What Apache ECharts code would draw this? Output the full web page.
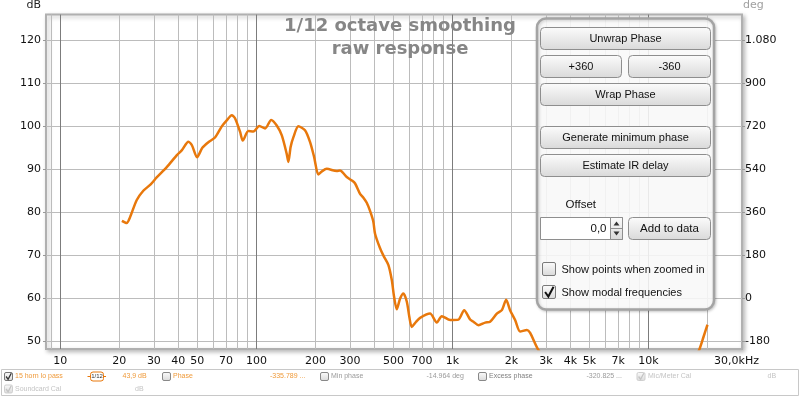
<!DOCTYPE html>
<html>
<head>
<meta charset="utf-8">
<script src="https://cdn.jsdelivr.net/npm/echarts@6/dist/echarts.min.js"></script>
<style>
  html, body { margin: 0; padding: 0; background: #fff; }
  #main { width: 800px; height: 397px; }
</style>
</head>
<body>
<div id="main"></div>
<script>
// 15 horn lo pass, 1/12 octave smoothing
var freqs = [20.6, 21.8, 22.7, 24.5, 26.5, 28.9, 31.0, 34.9, 39.3, 41.6,
  45.0, 46.9, 49.8, 53.0, 56.9, 61.5, 66.6, 70.6, 74.9, 77.8,
  82.6, 85.2, 91.0, 96.5, 103.5, 110.8, 119.0, 127.0, 134.8, 142.8,
  145.6, 149.5, 154.5, 163.8, 177.0, 187.7, 197.0, 207.0, 215.6, 228.6,
  257.0, 267.0, 289.0, 306.7, 318.9, 338.0, 351.6, 365.6, 380.0, 395.0,
  403.0, 427.5, 448.0, 471.6, 490.6, 504.0, 520.0, 541.0, 562.0, 585.0,
  603.0, 620.0, 653.0, 684.0, 769.0, 832.0, 883.0, 973.0, 1073, 1148,
  1231, 1280, 1358, 1469, 1556, 1685, 1787, 1880, 1968, 2088,
  2215, 2399, 2492, 2715, 3000, 3600, 4500, 6000, 8000, 11000,
  14500, 17000, 18200, 19100, 20000];
var spl = [78.0, 77.5, 78.9, 82.8, 85.0, 86.5, 88.1, 90.5, 93.3, 94.4,
  96.4, 95.6, 92.8, 95.0, 96.3, 97.4, 100.0, 101.4, 102.6, 101.9,
  98.7, 96.7, 98.9, 98.8, 100.1, 99.5, 101.5, 100.2, 97.9, 93.6,
  91.7, 95.2, 97.5, 100.0, 99.1, 96.4, 92.9, 88.8, 89.5, 90.1,
  89.6, 89.7, 88.2, 87.4, 86.7, 84.3, 83.4, 82.2, 80.3, 77.8,
  75.0, 71.6, 69.6, 67.7, 64.2, 60.3, 57.4, 59.9, 61.1, 59.2,
  55.6, 53.3, 54.5, 55.4, 56.4, 54.3, 55.8, 54.9, 55.0, 57.2,
  55.0, 54.5, 53.7, 54.3, 54.5, 56.4, 57.2, 59.6, 57.2, 54.9,
  52.2, 52.6, 51.9, 48.3, 45.5, 41, 38, 36, 35, 37,
  41, 45.5, 48.1, 51.0, 53.8];

var dbTicks = [50, 60, 70, 80, 90, 100, 110, 120];
var degTicks = [-180, 0, 180, 360, 540, 720, 900, 1080];
var freqLabels = [10, 20, 30, 40, 50, 70, 100, 200, 300, 500, 700,
  1000, 2000, 3000, 4000, 5000, 7000, 10000, 30000];
var freqGrid = [9, 10, 20, 30, 40, 50, 60, 70, 80, 90,
  100, 200, 300, 400, 500, 600, 700, 800, 900,
  1000, 2000, 3000, 4000, 5000, 6000, 7000, 8000, 9000,
  10000, 20000];
var decades = [10, 100, 1000, 10000];

var fMin = 8.45, fMax = 30000;
var dbMin = 48.15, dbMax = 126.05;
// right axis is tied to the left one: 10 dB <-> 180 deg, 120 dB <-> 1080 deg
var degMin = (dbMin - 120) * 18 + 1080;
var degMax = (dbMax - 120) * 18 + 1080;

var chart = echarts.init(document.getElementById('main'), null, { renderer: 'canvas' });

function fmtFreq(v) {
  if (v >= 30000) return '{e|30,0kHz}';
  if (v >= 1000) return (v / 1000) + 'k';
  return String(v);
}

function fmtDeg(v) {
  return String(v).replace(/\B(?=(\d{3})+(?!\d))/g, '.');
}

var btnFill = new echarts.graphic.LinearGradient(0, 0, 0, 1, [
  { offset: 0, color: '#fcfcfc' },
  { offset: 1, color: '#d9d9d9' }
]);

function button(x, y, w, h, label, size) {
  return [
    { type: 'rect', z: 101, shape: { x: x, y: y, width: w, height: h, r: 4 },
      style: { fill: btnFill, stroke: '#8e8e8e', lineWidth: 1 } },
    { type: 'text', z: 102, style: { x: x + w / 2, y: y + h / 2 + 0.5, text: label,
      font: (size || 11) + 'px "Liberation Sans"', fill: '#111', align: 'center', verticalAlign: 'middle' } }
  ];
}

function label(x, y, text, size, color, align) {
  return { type: 'text', z: 102, style: { x: x, y: y, text: text,
    font: size + 'px "Liberation Sans"', fill: color, align: align || 'left', verticalAlign: 'middle' } };
}

function box(x, y, s, checked, color) {
  var els = [{ type: 'rect', z: 101, shape: { x: x, y: y, width: s, height: s, r: 1.5 },
    style: { fill: btnFill, stroke: color, lineWidth: 1 } }];
  if (checked) {
    els.push({ type: 'polyline', z: 102,
      shape: { points: [[x + s * 0.2, y + s * 0.5], [x + s * 0.45, y + s * 0.85], [x + s * 0.85, y + s * 0.1]] },
      style: { stroke: checked, lineWidth: s > 10 ? 2 : 1.3, fill: null } });
  }
  return els;
}

var panel = [].concat(
  [{ type: 'rect', z: 100, shape: { x: 537, y: 18.5, width: 177, height: 291, r: 9 },
    style: { fill: 'rgba(255,255,255,0.86)', stroke: '#a4a4a4', lineWidth: 2.5,
      shadowBlur: 3, shadowColor: 'rgba(0,0,0,0.2)', shadowOffsetX: 1, shadowOffsetY: 1 } }],
  button(540.5, 27.5, 170, 22, 'Unwrap Phase'),
  button(540.5, 55.5, 81, 22, '+360'),
  button(628.5, 55.5, 82, 22, '-360'),
  button(540.5, 83.5, 170, 22, 'Wrap Phase'),
  button(540.5, 126.5, 170, 22, 'Generate minimum phase'),
  button(540.5, 154.5, 170, 22, 'Estimate IR delay'),
  [label(565.5, 205, 'Offset', 11.5, '#111')],
  [{ type: 'rect', z: 101, shape: { x: 540.5, y: 217.5, width: 82, height: 22 },
    style: { fill: '#fff', stroke: '#8e8e8e', lineWidth: 1 } },
   label(606.5, 229, '0,0', 11.5, '#111', 'right'),
   { type: 'rect', z: 101, shape: { x: 610.5, y: 217.5, width: 12, height: 22 },
    style: { fill: btnFill, stroke: '#8e8e8e', lineWidth: 1 } },
   { type: 'line', z: 102, shape: { x1: 610.5, y1: 228.5, x2: 622.5, y2: 228.5 },
    style: { stroke: '#8e8e8e', lineWidth: 1 } },
   { type: 'polygon', z: 102, shape: { points: [[613.5, 225.5], [619.5, 225.5], [616.5, 221.5]] },
    style: { fill: '#333' } },
   { type: 'polygon', z: 102, shape: { points: [[613.5, 231.5], [619.5, 231.5], [616.5, 235.5]] },
    style: { fill: '#333' } }],
  button(628.5, 217.5, 82, 22, 'Add to data', 11.5),
  box(542.5, 262.5, 13, null, '#7a7a7a'),
  [label(561.5, 270, 'Show points when zoomed in', 11, '#111')],
  box(542.5, 285.5, 13, '#111', '#7a7a7a'),
  [label(561.5, 293, 'Show modal frequencies', 11, '#111')]
);

var orange = '#ef9a3a', grey = '#9a9a9a', faint = '#c4c4c4';
var legendBar = [].concat(
  [{ type: 'rect', z: 100, shape: { x: 1.5, y: 369.5, width: 797, height: 26 },
    style: { fill: '#fff', stroke: '#c8c8c8', lineWidth: 1 } }],
  box(4.5, 372.5, 8, '#333', '#777'),
  [label(15, 376.5, '15 horn lo pass', 7, orange),
   { type: 'line', z: 101, shape: { x1: 87.5, y1: 376.5, x2: 106, y2: 376.5 },
    style: { stroke: '#e8780c', lineWidth: 1 } },
   { type: 'rect', z: 102, shape: { x: 90.5, y: 372, width: 13, height: 9, r: 2.5 },
    style: { fill: '#fff', stroke: '#e8780c', lineWidth: 1 } },
   { type: 'text', z: 103, style: { x: 97, y: 376.8, text: '1/12', font: '6px "Liberation Sans"',
    fill: '#333', align: 'center', verticalAlign: 'middle' } },
   label(122.5, 376.5, '43,9 dB', 7, orange)],
  box(162.5, 372.5, 8, null, '#888'),
  [label(173, 376.5, 'Phase', 7, orange),
   label(270, 376.5, '-335.789 ...', 7, orange)],
  box(320.5, 372.5, 8, null, '#888'),
  [label(331, 376.5, 'Min phase', 7, grey),
   label(426.5, 376.5, '-14.964 deg', 7, grey)],
  box(478.5, 372.5, 8, null, '#888'),
  [label(489, 376.5, 'Excess phase', 7, '#808080'),
   label(586.5, 376.5, '-320.825 ...', 7, grey)],
  box(637, 372.5, 8, faint, '#cfcfcf'),
  [label(648, 376.5, 'Mic/Meter Cal', 7, faint),
   label(767.5, 376.5, 'dB', 7, faint)],
  box(4.5, 385, 8, faint, '#cfcfcf'),
  [label(15, 389, 'Soundcard Cal', 7, faint),
   label(135, 389, 'dB', 7, faint)]
);

var option = {
  animation: false,
  backgroundColor: '#fff',
  title: {
    text: '1/12 octave smoothing\nraw response',
    left: 'center',
    top: 15,
    padding: 0,
    textStyle: {
      fontFamily: 'DejaVu Sans',
      fontWeight: 'bold',
      fontSize: 18,
      lineHeight: 23,
      color: '#868686'
    }
  },
  grid: {
    left: 46,
    right: 58,
    top: 14,
    bottom: 48,
    show: true,
    backgroundColor: '#fff',
    borderColor: '#b0b0b0',
    borderWidth: 2,
    shadowColor: 'rgba(0,0,0,0.25)',
    shadowBlur: 4,
    shadowOffsetX: 2,
    shadowOffsetY: 2
  },
  xAxis: [{
    type: 'log',
    min: fMin,
    max: fMax,
    axisLine: { show: false },
    axisTick: { show: false, customValues: freqGrid },
    axisLabel: {
      customValues: freqLabels,
      formatter: fmtFreq,
      margin: 7,
      fontFamily: 'DejaVu Sans',
      fontSize: 11,
      color: '#111',
      rich: { e: { fontFamily: 'DejaVu Sans', fontSize: 11, color: '#111', padding: [0, 11, 0, 0] } }
    },
    splitLine: { show: true, lineStyle: { color: '#bcbcbc', width: 1 } }
  }, {
    // darker decade lines drawn over the light ones
    type: 'log',
    min: fMin,
    max: fMax,
    axisLine: { show: false },
    axisTick: { show: false, customValues: decades },
    axisLabel: { show: false },
    splitLine: { show: true, lineStyle: { color: '#7c7c7c', width: 1 } }
  }],
  yAxis: [{
    type: 'value',
    min: dbMin,
    max: dbMax,
    name: 'dB',
    nameLocation: 'end',
    nameGap: 9,
    nameTextStyle: { fontFamily: 'DejaVu Sans', fontSize: 11, color: '#222',
      align: 'right', verticalAlign: 'middle', padding: [0, 5, 0, 0] },
    axisLine: { show: false },
    axisTick: { show: true, customValues: dbTicks, length: 3, lineStyle: { color: '#999' } },
    axisLabel: { customValues: dbTicks, margin: 5, fontFamily: 'DejaVu Sans', fontSize: 11, color: '#111' },
    splitLine: { show: true, lineStyle: { color: '#bcbcbc', width: 1 } }
  }, {
    type: 'value',
    position: 'right',
    min: degMin,
    max: degMax,
    name: 'deg',
    nameLocation: 'end',
    nameGap: 9,
    nameTextStyle: { fontFamily: 'DejaVu Sans', fontSize: 11, color: '#a0a0a0',
      align: 'left', verticalAlign: 'middle', padding: [0, 0, 0, 1] },
    axisLine: { show: false },
    axisTick: { show: true, customValues: degTicks, length: 3, lineStyle: { color: '#999' } },
    axisLabel: { customValues: degTicks, formatter: fmtDeg, margin: 3,
      fontFamily: 'DejaVu Sans', fontSize: 11, color: '#111' },
    splitLine: { show: false }
  }],
  series: [{
    name: '15 horn lo pass',
    type: 'line',
    xAxisIndex: 0,
    yAxisIndex: 0,
    data: freqs.map(function (f, i) { return [f, spl[i]]; }),
    showSymbol: false,
    smooth: 0.25,
    clip: true,
    z: 5,
    lineStyle: { color: '#e8780c', width: 2.5 }
  }],
  graphic: { elements: panel.concat(legendBar) }
};

chart.setOption(option);
</script>
</body>
</html>
